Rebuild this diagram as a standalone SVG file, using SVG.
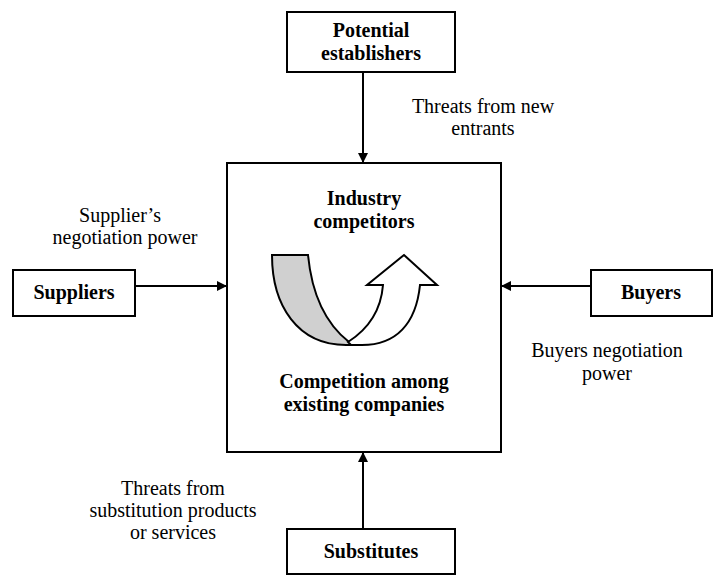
<svg xmlns="http://www.w3.org/2000/svg" width="719" height="575" viewBox="0 0 719 575">
  <defs>
    <marker id="head" markerWidth="10" markerHeight="10" refX="10" refY="5" orient="auto" markerUnits="userSpaceOnUse" viewBox="0 0 10 10">
      <path d="M0,0 L10,5 L0,10 Z" fill="#000"/>
    </marker>
    <style>
      .box { fill: #fff; stroke: #000; stroke-width: 2; }
      .title { font-family: "Liberation Serif", "Times New Roman", serif; font-size: 20px; font-weight: bold; fill: #000; text-anchor: middle; }
      .label { font-family: "Liberation Serif", "Times New Roman", serif; font-size: 20px; fill: #000; text-anchor: middle; }
      .edge { stroke: #000; stroke-width: 2; fill: none; marker-end: url(#head); }
      .band { stroke: #000; stroke-width: 2; stroke-linejoin: miter; }
    </style>
  </defs>
  <rect width="719" height="575" fill="#fff"/>

  <!-- central industry box -->
  <g id="industry">
    <rect class="box" x="227" y="163" width="274" height="289"/>
    <text class="title" x="364" y="205">Industry</text>
    <text class="title" x="364" y="228">competitors</text>
    <!-- rivalry curve: shaded tail and white arrow -->
    <path class="band" fill="#d0d0d0" d="M272,255 L308,255 C312,296 326,324 349,342 L352,345 L346,345 C298,345 272,306 272,255 Z"/>
    <path class="band" fill="#fff" d="M348,342 C370,328 381,310 383,285 L367,285 L404,255 L437,285 L420,285 C416,324 396,345 362,345 L351,345 Z"/>
    <text class="title" x="364" y="388">Competition among</text>
    <text class="title" x="364" y="411">existing companies</text>
  </g>

  <g id="potential">
    <rect class="box" x="287" y="12" width="168" height="60"/>
    <text class="title" x="371" y="37">Potential</text>
    <text class="title" x="371" y="60">establishers</text>
  </g>

  <g id="suppliers">
    <rect class="box" x="13" y="270" width="122" height="46"/>
    <text class="title" x="74" y="299">Suppliers</text>
  </g>

  <g id="buyers">
    <rect class="box" x="591" y="270" width="121" height="46"/>
    <text class="title" x="651" y="299">Buyers</text>
  </g>

  <g id="substitutes">
    <rect class="box" x="287" y="529" width="168" height="45"/>
    <text class="title" x="371" y="558">Substitutes</text>
  </g>

  <!-- force connectors -->
  <g id="connectors">
    <line class="edge" x1="363" y1="72" x2="363" y2="163"/>
    <line class="edge" x1="135" y1="286" x2="227" y2="286"/>
    <line class="edge" x1="591" y1="286" x2="501" y2="286"/>
    <line class="edge" x1="363" y1="529" x2="363" y2="452"/>
  </g>

  <g id="labels">
    <text class="label" x="483" y="113">Threats from new</text>
    <text class="label" x="483" y="135">entrants</text>
    <text class="label" x="120" y="222">Supplier’s</text>
    <text class="label" x="125" y="244">negotiation power</text>
    <text class="label" x="607" y="357">Buyers negotiation</text>
    <text class="label" x="607" y="380">power</text>
    <text class="label" x="173" y="495">Threats from</text>
    <text class="label" x="173" y="517">substitution products</text>
    <text class="label" x="173" y="539">or services</text>
  </g>
</svg>
